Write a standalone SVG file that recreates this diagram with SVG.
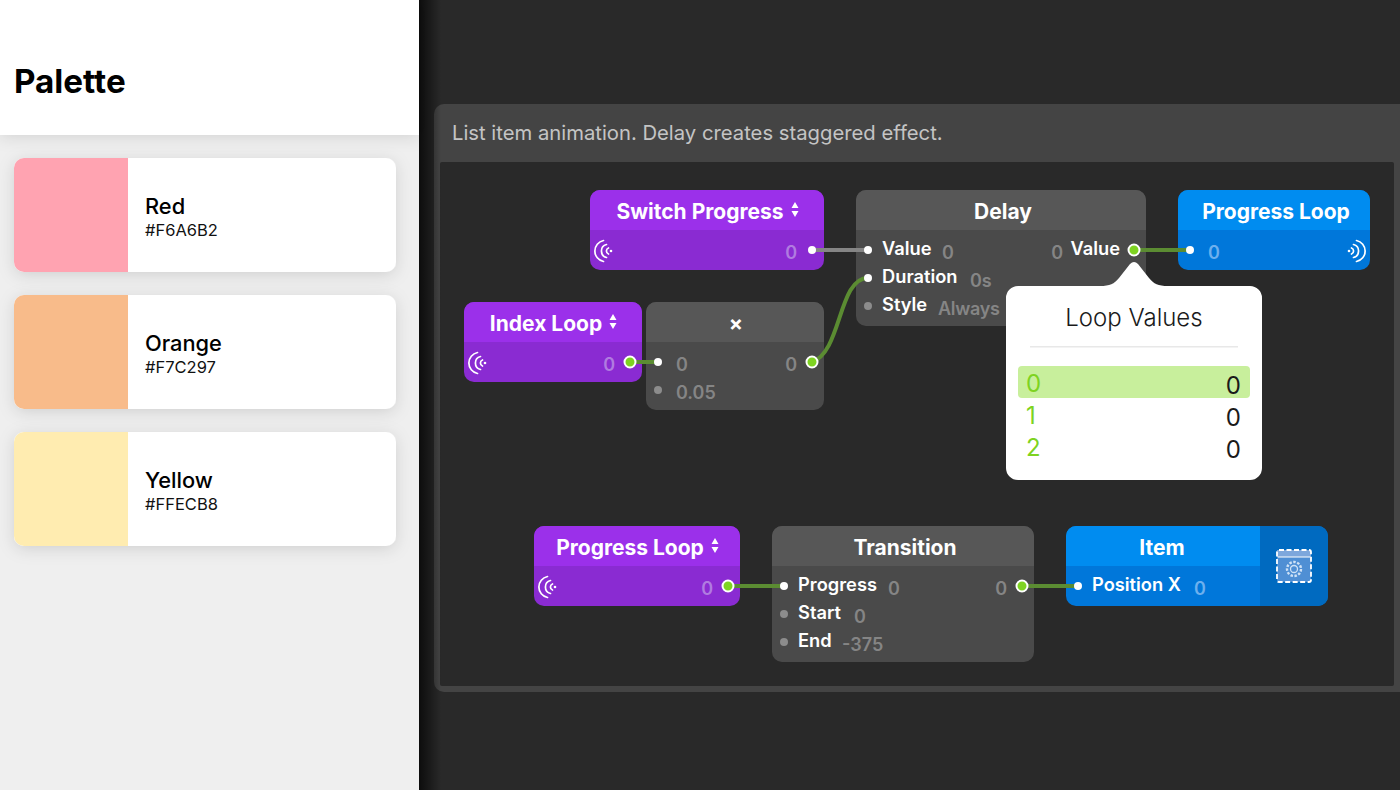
<svg xmlns="http://www.w3.org/2000/svg" width="1400" height="790" viewBox="0 0 1400 790">
<style>
text{font-family:"Inter","Liberation Sans",sans-serif}
.title{font-size:21px;font-weight:700;fill:#fff;text-anchor:middle;transform:translateY(.6px)}
.port{font-size:18.300px;font-weight:600;fill:#fff;transform:translateY(.5px)}
.val{font-size:18px;font-weight:600;fill:#858585;transform:translateY(.5px)}
.pv{font-size:18px;font-weight:600;fill:#b07be0;transform:translateY(.5px)}
.bv{font-size:18px;font-weight:600;fill:#6db0ee;transform:translateY(.5px)}
.end{text-anchor:end}
.purpleT{fill:#9b30ea}.purpleB{fill:#8a2bd2}
.blueT{fill:#008cf0}.blueB{fill:#0077da}
.grayT{fill:#575757}.grayB{fill:#4a4a4a}
.dot{fill:#fff}.dim{fill:#8c8c8c}
.out{fill:#7ed321;stroke:#fff;stroke-width:2}
.wire{fill:none;stroke:#5b8c32;stroke-width:4}
.ico{fill:none;stroke:#fff;stroke-width:1.700;stroke-linecap:round}
.tri{fill:#fff}
.name{font-size:21.800px;font-weight:500;fill:#000}
.hex{font-size:16.500px;fill:#111}
.lv{font-size:24px;font-weight:400;fill:#1a1a1a}
.lk{font-size:24px;font-weight:400;fill:#7ed321}
</style>
<defs>
<linearGradient id="edge" x1="0" x2="1" y1="0" y2="0"><stop offset="0" stop-color="#000" stop-opacity=".7"/><stop offset="1" stop-color="#000" stop-opacity="0"/></linearGradient>
<filter id="soft" x="-10%" y="-25%" width="120%" height="160%"><feDropShadow dx="0" dy="3" stdDeviation="8" flood-color="#000" flood-opacity=".13"/></filter>
<filter id="bar" x="-5%" y="-10%" width="110%" height="140%"><feDropShadow dx="0" dy="2" stdDeviation="8" flood-color="#000" flood-opacity=".12"/></filter>
<clipPath id="c1"><rect x="14" y="158" width="382" height="114" rx="10"/></clipPath>
<clipPath id="c2"><rect x="14" y="295" width="382" height="114" rx="10"/></clipPath>
<clipPath id="c3"><rect x="14" y="432" width="382" height="114" rx="10"/></clipPath>
<g id="sigL"><path class="ico" d="M8.500 -10.500A10.700 10.700 0 0 0 8.500 10.500M11.500 -6.500A6.700 6.700 0 0 0 11.500 6.500M13.500 -3A3.200 3.200 0 0 0 13.500 3"/><circle cx="16" cy="0" r="1.300" fill="#fff"/></g>
<g id="updn"><path class="tri" d="M0 -7.500L3.500 -1.500H-3.500ZM0 7.500L3.500 1.500H-3.500Z"/></g>
</defs>

<rect width="1400" height="790" fill="#292929"/>

<g id="canvas">
<rect x="434" y="104" width="980" height="588" rx="10" fill="#444"/>
<rect x="440" y="162" width="954" height="524" rx="2" fill="#292929"/>
<text x="452" y="140" font-size="20.250" fill="#c4c4c4">List item animation. Delay creates staggered effect.</text>
</g>
<rect x="419" y="0" width="22" height="790" fill="url(#edge)"/>

<g id="sidebar">
<rect width="419" height="790" fill="#efefef"/>
<rect width="419" height="135" fill="#fff" filter="url(#bar)"/>
<text x="14" y="93" font-size="33.200" font-weight="700" fill="#000">Palette</text>
</g>
<g id="card-red">
<rect x="14" y="158" width="382" height="114" rx="10" fill="#fff" filter="url(#soft)"/>
<rect x="14" y="158" width="114" height="114" fill="#ffa3b1" clip-path="url(#c1)"/>
<text class="name" x="145" y="214">Red</text><text class="hex" x="145" y="236">#F6A6B2</text>
</g>
<g id="card-orange">
<rect x="14" y="295" width="382" height="114" rx="10" fill="#fff" filter="url(#soft)"/>
<rect x="14" y="295" width="114" height="114" fill="#f8bb8a" clip-path="url(#c2)"/>
<text class="name" x="145" y="351">Orange</text><text class="hex" x="145" y="373">#F7C297</text>
</g>
<g id="card-yellow">
<rect x="14" y="432" width="382" height="114" rx="10" fill="#fff" filter="url(#soft)"/>
<rect x="14" y="432" width="114" height="114" fill="#ffecb0" clip-path="url(#c3)"/>
<text class="name" x="145" y="488">Yellow</text><text class="hex" x="145" y="510">#FFECB8</text>
</g>

<g id="switch-progress">
<rect class="purpleB" x="590" y="190" width="234" height="80" rx="10"/>
<path class="purpleT" d="M590 230V200a10 10 0 0 1 10-10H814a10 10 0 0 1 10 10V230Z"/>
<text class="title" x="700" y="218">Switch Progress</text><use href="#updn" x="795" y="209.500"/>
<use href="#sigL" x="595" y="251"/>
<text class="pv end" x="797" y="258">0</text>
</g>
<g id="index-loop">
<rect class="purpleB" x="464" y="302" width="178" height="80" rx="10"/>
<path class="purpleT" d="M464 342V312a10 10 0 0 1 10-10H632a10 10 0 0 1 10 10V342Z"/>
<text class="title" x="546" y="330">Index Loop</text><use href="#updn" x="613" y="321.500"/>
<use href="#sigL" x="469" y="363"/>
<text class="pv end" x="615" y="370">0</text>
</g>
<g id="multiply">
<rect class="grayB" x="646" y="302" width="178" height="108" rx="10"/>
<path class="grayT" d="M646 342V312a10 10 0 0 1 10-10H814a10 10 0 0 1 10 10V342Z"/>
<text class="title" x="736" y="330">×</text>
<circle class="dim" cx="658" cy="390" r="4"/>
<text class="val" x="676" y="370">0</text><text class="val" x="676" y="398">0.05</text>
<text class="val end" x="797" y="370">0</text>
</g>
<g id="delay">
<rect class="grayB" x="856" y="190" width="290" height="136" rx="10"/>
<path class="grayT" d="M856 230V200a10 10 0 0 1 10-10H1136a10 10 0 0 1 10 10V230Z"/>
<text class="title" x="1003" y="218">Delay</text>
<text class="port" x="882" y="254">Value</text><text class="val" x="942" y="258">0</text>
<text class="port" x="882" y="282">Duration</text><text class="val" x="970" y="286">0s</text>
<circle class="dim" cx="868" cy="306" r="4"/>
<text class="port" x="882" y="310">Style</text><text class="val" x="938" y="314" textLength="62">Always</text>
<text class="val end" x="1063" y="258">0</text><text class="port end" x="1120" y="254">Value</text>
</g>
<g id="progress-loop-out">
<rect class="blueB" x="1178" y="190" width="192" height="80" rx="10"/>
<path class="blueT" d="M1178 230V200a10 10 0 0 1 10-10H1360a10 10 0 0 1 10 10V230Z"/>
<text class="title" x="1276" y="218">Progress Loop</text>
<text class="bv" x="1208" y="258">0</text>
<use href="#sigL" transform="translate(1365 251) scale(-1 1)"/>
</g>
<g id="progress-loop">
<rect class="purpleB" x="534" y="526" width="206" height="80" rx="10"/>
<path class="purpleT" d="M534 566V536a10 10 0 0 1 10-10H730a10 10 0 0 1 10 10V566Z"/>
<text class="title" x="630" y="554">Progress Loop</text><use href="#updn" x="715" y="545.500"/>
<use href="#sigL" x="539" y="587"/>
<text class="pv end" x="713" y="594">0</text>
</g>
<g id="transition">
<rect class="grayB" x="772" y="526" width="262" height="136" rx="10"/>
<path class="grayT" d="M772 566V536a10 10 0 0 1 10-10H1024a10 10 0 0 1 10 10V566Z"/>
<text class="title" x="905" y="554">Transition</text>
<text class="port" x="798" y="590">Progress</text><text class="val" x="888" y="594">0</text>
<circle class="dim" cx="784" cy="614" r="4"/><text class="port" x="798" y="618">Start</text><text class="val" x="854" y="622">0</text>
<circle class="dim" cx="784" cy="642" r="4"/><text class="port" x="798" y="646">End</text><text class="val" x="842" y="650">-375</text>
<text class="val end" x="1007" y="594">0</text>
</g>
<g id="item">
<rect class="blueB" x="1066" y="526" width="262" height="80" rx="10"/>
<path class="blueT" d="M1066 566V536a10 10 0 0 1 10-10H1260V566Z"/>
<path fill="#006ac0" d="M1260 526H1318a10 10 0 0 1 10 10V596a10 10 0 0 1-10 10H1260Z"/>
<text class="title" x="1162" y="554">Item</text>
<text class="port" x="1092" y="590">Position X</text><text class="bv" x="1194" y="594">0</text>
<rect x="1277" y="550" width="34" height="32" rx="2" fill="#4f8fd4"/>
<rect x="1277" y="550" width="34" height="7" fill="#7da7dc"/>
<rect x="1277" y="550" width="34" height="32" rx="2" fill="none" stroke="#fff" stroke-width="1.800" stroke-dasharray="5 2.500"/>
<path d="M1278 557H1310" stroke="#fff" stroke-width="1"/>
<circle cx="1294" cy="569" r="7" fill="none" stroke="#cfe2f6" stroke-width="2.400" stroke-dasharray="2.500 1.500"/>
<circle cx="1294" cy="569" r="3.500" fill="none" stroke="#cfe2f6" stroke-width="1.300"/>
</g>

<g id="connectors">
<path d="M812 250H868" fill="none" stroke="#858585" stroke-width="4"/>
<path class="wire" d="M630 362H658"/>
<path class="wire" d="M812 362C842 352 838 278 868 278"/>
<path class="wire" d="M1134 250H1190"/>
<path class="wire" d="M728 586H784"/>
<path class="wire" d="M1022 586H1078"/>
<circle class="dot" cx="812" cy="250" r="4"/><circle class="dot" cx="868" cy="250" r="4"/>
<circle class="dot" cx="868" cy="278" r="4"/><circle class="dot" cx="658" cy="362" r="4"/>
<circle class="dot" cx="1190" cy="250" r="4"/><circle class="dot" cx="784" cy="586" r="4"/>
<circle class="dot" cx="1078" cy="586" r="4"/>
<circle class="out" cx="630" cy="362" r="5.500"/><circle class="out" cx="812" cy="362" r="5.500"/>
<circle class="out" cx="1134" cy="250" r="5.500"/><circle class="out" cx="728" cy="586" r="5.500"/>
<circle class="out" cx="1022" cy="586" r="5.500"/>
</g>

<g id="loop-values">
<path fill="#fff" d="M1018 286H1100C1110 286 1114 284 1119 278L1130 264Q1134 260 1138 264L1149 278C1154 284 1158 286 1168 286H1250a12 12 0 0 1 12 12V468a12 12 0 0 1-12 12H1018a12 12 0 0 1-12-12V298a12 12 0 0 1 12-12Z"/>
<text x="1134" y="326" font-size="24" font-weight="300" fill="#1a1a1a" text-anchor="middle">Loop Values</text>
<rect x="1030" y="346" width="208" height="1.500" fill="#e8e8e8"/>
<rect x="1018" y="366" width="232" height="32" rx="4" fill="#c8ef9c"/>
<text class="lk" x="1026" y="392">0</text><text class="lk" x="1026" y="424">1</text><text class="lk" x="1026" y="456">2</text>
<text class="lv end" x="1241" y="394">0</text><text class="lv end" x="1241" y="426">0</text><text class="lv end" x="1241" y="458">0</text>
</g>
</svg>
